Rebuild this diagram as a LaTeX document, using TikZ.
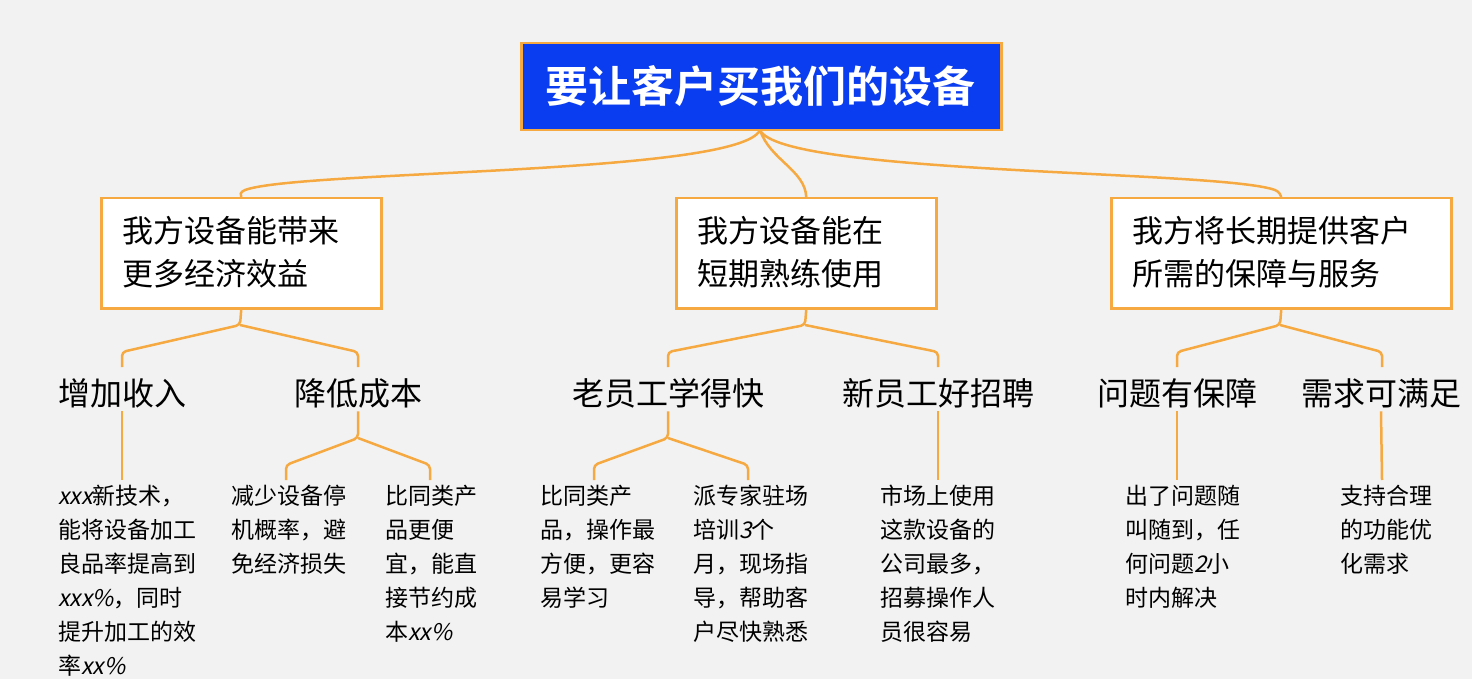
\documentclass[tikz,border=0pt]{standalone}
\usepackage{fontspec}
\setmainfont{Noto Sans CJK SC}[BoldFont={Noto Sans CJK SC Bold}]
\newfontfamily\slantfont{Noto Sans CJK SC}[FakeSlant=0.2]
\newcommand{\sx}[1]{{\slantfont #1}}
\definecolor{bg}{HTML}{F2F2F2}
\definecolor{org}{HTML}{F5A940}
\definecolor{blu}{HTML}{0A3CF0}
\begin{document}
\begin{tikzpicture}[x=1pt,y=-1pt,
  box/.style={draw=org,line width=2.5pt,fill=white,inner sep=0pt,anchor=north west},
  lvone/.style={font=\fontsize{31}{43}\selectfont,align=left,anchor=west},
  lvtwo/.style={font=\fontsize{32}{40}\selectfont},
  leaf/.style={font=\fontsize{23}{34}\selectfont,align=left,anchor=north west,inner sep=0pt},
  conn/.style={draw=org,line width=2.5pt,rounded corners=4pt}]
\fill[bg] (0,0) rectangle (1472,679);
% root
\node[box,fill=blu,minimum width=480pt,minimum height=87pt] (root) at (520,42) {};
\node[text=white,font=\fontsize{43}{50}\selectfont\bfseries] (rt) at (760,86) {要让客户买我们的设备};
% level 1
\node[box,minimum width=280pt,minimum height=110pt] (A) at (100,197) {};
\node[box,minimum width=260pt,minimum height=110pt] (B) at (675,197) {};
\node[box,minimum width=340pt,minimum height=110pt] (C) at (1110,197) {};
\node[lvone] (At) at (119,252) {我方设备能带来\\更多经济效益};
\node[lvone] (Bt) at (694,252) {我方设备能在\\短期熟练使用};
\node[lvone] (Ct) at (1129,252) {我方将长期提供客户\\所需的保障与服务};
\coordinate (r0) at (760,130);
\draw[org,line width=2.5pt] (r0) .. controls (740,175) and (300,170) .. (245,190) .. controls (240,192) and (240,195) .. (A.north);
\draw[org,line width=2.5pt] (r0) .. controls (770,160) and (805,170) .. (B.north);
\draw[org,line width=2.5pt] (r0) .. controls (780,175) and (1220,170) .. (1275,190) .. controls (1280,192) and (1280,195) .. (C.north);
% level 2
\node[lvtwo] (a1) at (122,393) {增加收入};
\node[lvtwo] (a2) at (358,393) {降低成本};
\node[lvtwo] (b1) at (668,393) {老员工学得快};
\node[lvtwo] (b2) at (938,393) {新员工好招聘};
\node[lvtwo] (c1) at (1177,393) {问题有保障};
\node[lvtwo] (c2) at (1381,393) {需求可满足};
\draw[conn] (A.south) -- (240,325) -- (122,352) -- (122,367);
\draw[conn] (240,325) -- (358,352) -- (358,367);
\draw[conn] (B.south) -- (805,325) -- (668,352) -- (668,367);
\draw[conn] (805,325) -- (938,352) -- (938,367);
\draw[conn] (C.south) -- (1280,325) -- (1177,352) -- (1177,367);
\draw[conn] (1280,325) -- (1382,352) -- (1382,367);
% leaves
\node[leaf] (l1) at (58,485) {\sx{xxx}新技术，\\能将设备加工\\良品率提高到\\\sx{xxx\%}，同时\\提升加工的效\\率\sx{xx\%}};
\node[leaf] (l2) at (231,485) {减少设备停\\机概率，避\\免经济损失};
\node[leaf] (l3) at (385,485) {比同类产\\品更便\\宜，能直\\接节约成\\本\sx{xx\%}};
\node[leaf] (l4) at (540,485) {比同类产\\品，操作最\\方便，更容\\易学习};
\node[leaf] (l5) at (693,485) {派专家驻场\\培训\sx{3}个\\月，现场指\\导，帮助客\\户尽快熟悉};
\node[leaf] (l6) at (880,485) {市场上使用\\这款设备的\\公司最多，\\招募操作人\\员很容易};
\node[leaf] (l7) at (1125,485) {出了问题随\\叫随到，任\\何问题\sx{2}小\\时内解决};
\node[leaf] (l8) at (1340,485) {支持合理\\的功能优\\化需求};
\coordinate (l1t) at (122,480); \coordinate (l2t) at (286,480); \coordinate (l3t) at (430,480);
\coordinate (l4t) at (594,480); \coordinate (l5t) at (748,480); \coordinate (l6t) at (938,480);
\coordinate (l7t) at (1177,480); \coordinate (l8t) at (1382,480);
\draw[conn] (a1.south) -- (l1t);
\draw[conn] (a2.south) -- (358,438) -- (286,465) -- (l2t);
\draw[conn] (358,438) -- (430,465) -- (l3t);
\draw[conn] (b1.south) -- (668,438) -- (594,465) -- (l4t);
\draw[conn] (668,438) -- (748,465) -- (l5t);
\draw[conn] (b2.south) -- (l6t);
\draw[conn] (c1.south) -- (l7t);
\draw[conn] (c2.south) -- (l8t);
\end{tikzpicture}
\end{document}
